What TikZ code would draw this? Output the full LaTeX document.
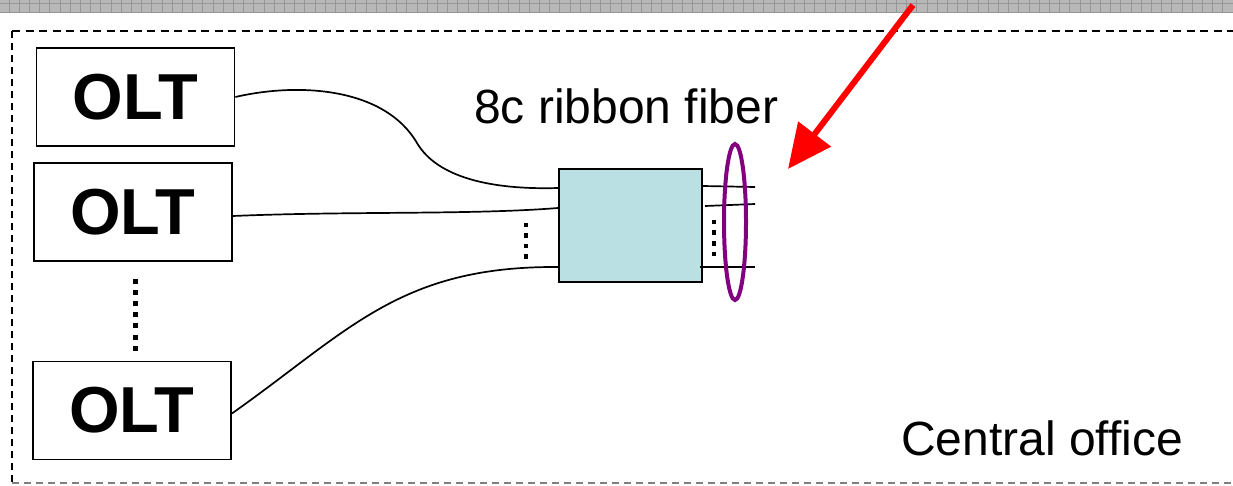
\documentclass[tikz,border=0pt]{standalone}
\usepackage{fontspec}
\setmainfont{Liberation Sans}
\usetikzlibrary{arrows.meta,shapes.geometric}
\definecolor{boxcyan}{RGB}{187,224,227}
\definecolor{ringpurple}{RGB}{128,0,128}
\definecolor{bandgray}{RGB}{184,184,184}
\definecolor{bandline}{RGB}{150,150,150}
\tikzset{
  oltbox/.style={draw, line width=1.8pt, minimum width=198pt, minimum height=98pt, inner sep=0pt,
    font=\fontsize{65}{65}\selectfont\bfseries},
  fibre/.style={line width=1.7pt},
  splitbox/.style={draw, line width=2pt, fill=boxcyan, minimum width=143pt, minimum height=113pt, inner sep=0pt},
  labeltext/.style={inner sep=0pt, font=\fontsize{48}{48}\selectfont},
  dotsq/.style={fill=black},
}
\begin{document}
\begin{tikzpicture}[x=1pt,y=-1pt]
\useasboundingbox (0,0) rectangle (1233,485);
% top band
\fill[bandgray] (0,0) rectangle (1233,13);
\foreach \i in {0,...,121} {
  \draw[bandline, line width=0.8pt] ({9+\i*10.2},0) -- ({9+\i*10.2},13);
}
\draw[bandline, line width=0.8pt] (0,3.5) -- (1233,3.5);
\draw[bandline, line width=1pt] (0,12.7) -- (1233,12.7);
% dashed frame
\draw[line width=2.5pt, dash pattern=on 8pt off 5.5pt] (12,31) -- (1240,31);
\draw[line width=2.5pt, dash pattern=on 7pt off 5pt] (12,31) -- (12,483);
\draw[gray, line width=1.8pt, dash pattern=on 7pt off 5pt] (12,483) -- (1240,483);
% OLT boxes
\node[oltbox] (olt1) at (135.5,97) {OLT};
\node[oltbox] (olt2) at (133,212) {OLT};
\node[oltbox] (olt3) at (132,410.5) {OLT};
\foreach \k in {0,...,6} {
  \fill[dotsq] ({132.5},{278.5+\k*11.2}) rectangle ++(5,5);
}
% splitter box
\node[splitbox] (split) at (630.5,225.5) {};
% fibres to splitter
\draw[fibre] (olt1.east) .. controls (300,82) and (385,88) .. (417,143)
   .. controls (437,177) and (490,190) .. ([yshift=-20pt]split.north west);
\draw[fibre] ([yshift=-4pt]olt2.east) .. controls (350,211) and (470,215) .. ([yshift=-40pt]split.north west);
\draw[fibre] ([yshift=-3pt]olt3.east) .. controls (350,330) and (400,266) .. ([yshift=-99pt]split.north west);
\foreach \k in {0,...,3} {
  \fill[dotsq] (523.7,{222.8+\k*10.4}) rectangle ++(4.6,4.6);
}
% ribbon outputs
\coordinate (r1) at (755,187);
\coordinate (r2) at (755,204);
\coordinate (r3) at (755,267);
\draw[fibre] ([yshift=-18pt]split.north east) -- (r1);
\draw[fibre] ([xshift=2pt,yshift=-38pt]split.north east) -- (r2);
\draw[fibre] ([xshift=-3pt,yshift=-99pt]split.north east) -- (r3);
\foreach \k in {0,...,3} {
  \fill[dotsq] (711.7,{219.8+\k*10.6}) rectangle ++(4.6,4.6);
}
\node[draw=ringpurple, line width=4pt, ellipse, minimum width=22pt, minimum height=156pt, inner sep=0pt] (ring) at (735,222) {};
% labels
\node[labeltext, anchor=base west] (ribbonlabel) at (474,123) {8c ribbon fiber};
\node[labeltext, anchor=base west] (colabel) at (901,455) {Central office};
% red arrow
\coordinate (arrowtail) at (913,5);
\coordinate (arrowtip) at (788,169);
\draw[red, line width=6pt, -{Triangle[length=44pt,width=40pt]}] (arrowtail) -- (arrowtip);
\end{tikzpicture}
\end{document}
